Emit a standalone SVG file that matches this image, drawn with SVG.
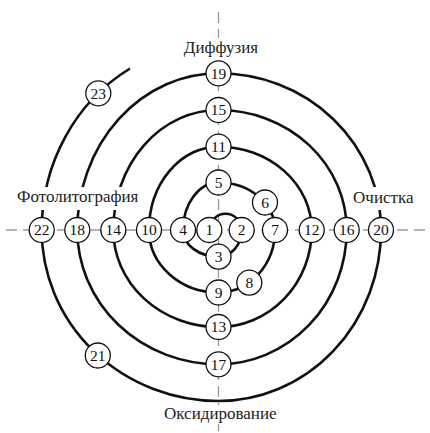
<svg xmlns="http://www.w3.org/2000/svg" width="430" height="433" viewBox="0 0 430 433">
<style>
.axis{stroke:#9a9a9a;stroke-width:1.3;stroke-dasharray:11 6;fill:none}
.spiral{stroke:#111;stroke-width:2.6;fill:none;stroke-linecap:butt}
.node circle{fill:#fff;stroke:#111;stroke-width:1.3}
.node text{font-family:"Liberation Serif","Times New Roman",serif;font-size:15.5px;fill:#111;text-anchor:middle}
.label text{font-family:"Liberation Serif","Times New Roman",serif;font-size:17px;fill:#222;text-anchor:middle}
.label rect{fill:#fff}
</style>
<rect width="430" height="433" fill="#fff"/>
<g id="axes">
<line class="axis" x1="218.5" y1="12" x2="218.5" y2="433"/>
<line class="axis" x1="6" y1="230" x2="430" y2="230"/>
</g>
<g id="connectors">
<path class="spiral" d="M209.3 230 A16.2 16.2 0 0 1 241.7 230 A23.2 26.7 0 0 1 218.5 256.7 A35.5 26.7 0 0 1 183 230 A35.5 47.5 0 0 1 218.5 182.5 A56.5 47.5 0 0 1 275 230 A56.5 62.5 0 0 1 218.5 292.5 A69.5 62.5 0 0 1 149 230 A69.5 83.3 0 0 1 218.5 146.7 A93.2 83.3 0 0 1 311.7 230 A93.2 97 0 0 1 218.5 327 A105.2 97 0 0 1 113.3 230 A105.2 120 0 0 1 218.5 110 A128.2 120 0 0 1 346.7 230 A128.2 134.3 0 0 1 218.5 364.3 A141.2 134.3 0 0 1 77.3 230 A141.2 156.7 0 0 1 218.5 73.3 A162.5 156.7 0 0 1 381 230 A162.5 171 0 0 1 218.5 401 A176.8 171 0 0 1 41.7 230 A176.8 186.5 0 0 1 130 68.5"/>
</g>
<g id="label-diffusion" class="label"><rect x="181" y="38" width="80" height="21"/><text x="221" y="53">Диффузия</text></g>
<g id="label-photolithography" class="label"><rect x="14" y="187" width="128" height="23"/><text x="77.7" y="201.7">Фотолитография</text></g>
<g id="label-cleaning" class="label"><rect x="351" y="187" width="64" height="23"/><text x="383.3" y="202.5">Очистка</text></g>
<g id="label-oxidation" class="label"><rect x="160" y="405" width="121" height="19"/><text x="220.3" y="418.5">Оксидирование</text></g>
<g id="node-1" class="node"><circle cx="209.3" cy="230" r="12.5"/><text x="209.3" y="235.3">1</text></g>
<g id="node-2" class="node"><circle cx="241.7" cy="230" r="12.5"/><text x="241.7" y="235.3">2</text></g>
<g id="node-3" class="node"><circle cx="218.5" cy="256.7" r="12.5"/><text x="218.5" y="262">3</text></g>
<g id="node-4" class="node"><circle cx="183" cy="230" r="12.5"/><text x="183" y="235.3">4</text></g>
<g id="node-5" class="node"><circle cx="218.5" cy="182.5" r="12.5"/><text x="218.5" y="187.8">5</text></g>
<g id="node-6" class="node"><circle cx="265" cy="202.5" r="12.5"/><text x="265" y="207.8">6</text></g>
<g id="node-7" class="node"><circle cx="275" cy="230" r="12.5"/><text x="275" y="235.3">7</text></g>
<g id="node-8" class="node"><circle cx="249.3" cy="282.7" r="12.5"/><text x="249.3" y="288">8</text></g>
<g id="node-9" class="node"><circle cx="218.5" cy="292.5" r="12.5"/><text x="218.5" y="297.8">9</text></g>
<g id="node-10" class="node"><circle cx="149" cy="230" r="12.5"/><text x="149" y="235.3">10</text></g>
<g id="node-11" class="node"><circle cx="218.5" cy="146.7" r="12.5"/><text x="218.5" y="152">11</text></g>
<g id="node-12" class="node"><circle cx="311.7" cy="230" r="12.5"/><text x="311.7" y="235.3">12</text></g>
<g id="node-13" class="node"><circle cx="218.5" cy="327" r="12.5"/><text x="218.5" y="332.3">13</text></g>
<g id="node-14" class="node"><circle cx="113.3" cy="230" r="12.5"/><text x="113.3" y="235.3">14</text></g>
<g id="node-15" class="node"><circle cx="218.5" cy="110" r="12.5"/><text x="218.5" y="115.3">15</text></g>
<g id="node-16" class="node"><circle cx="346.7" cy="230" r="12.5"/><text x="346.7" y="235.3">16</text></g>
<g id="node-17" class="node"><circle cx="218.5" cy="364.3" r="12.5"/><text x="218.5" y="369.6">17</text></g>
<g id="node-18" class="node"><circle cx="77.3" cy="230" r="12.5"/><text x="77.3" y="235.3">18</text></g>
<g id="node-19" class="node"><circle cx="218.5" cy="73.3" r="12.5"/><text x="218.5" y="78.6">19</text></g>
<g id="node-20" class="node"><circle cx="381" cy="230" r="12.5"/><text x="381" y="235.3">20</text></g>
<g id="node-21" class="node"><circle cx="97.8" cy="355.5" r="12.5"/><text x="97.8" y="360.8">21</text></g>
<g id="node-22" class="node"><circle cx="41.7" cy="230" r="12.5"/><text x="41.7" y="235.3">22</text></g>
<g id="node-23" class="node"><circle cx="98.3" cy="93.3" r="12.5"/><text x="98.3" y="98.6">23</text></g>
</svg>
